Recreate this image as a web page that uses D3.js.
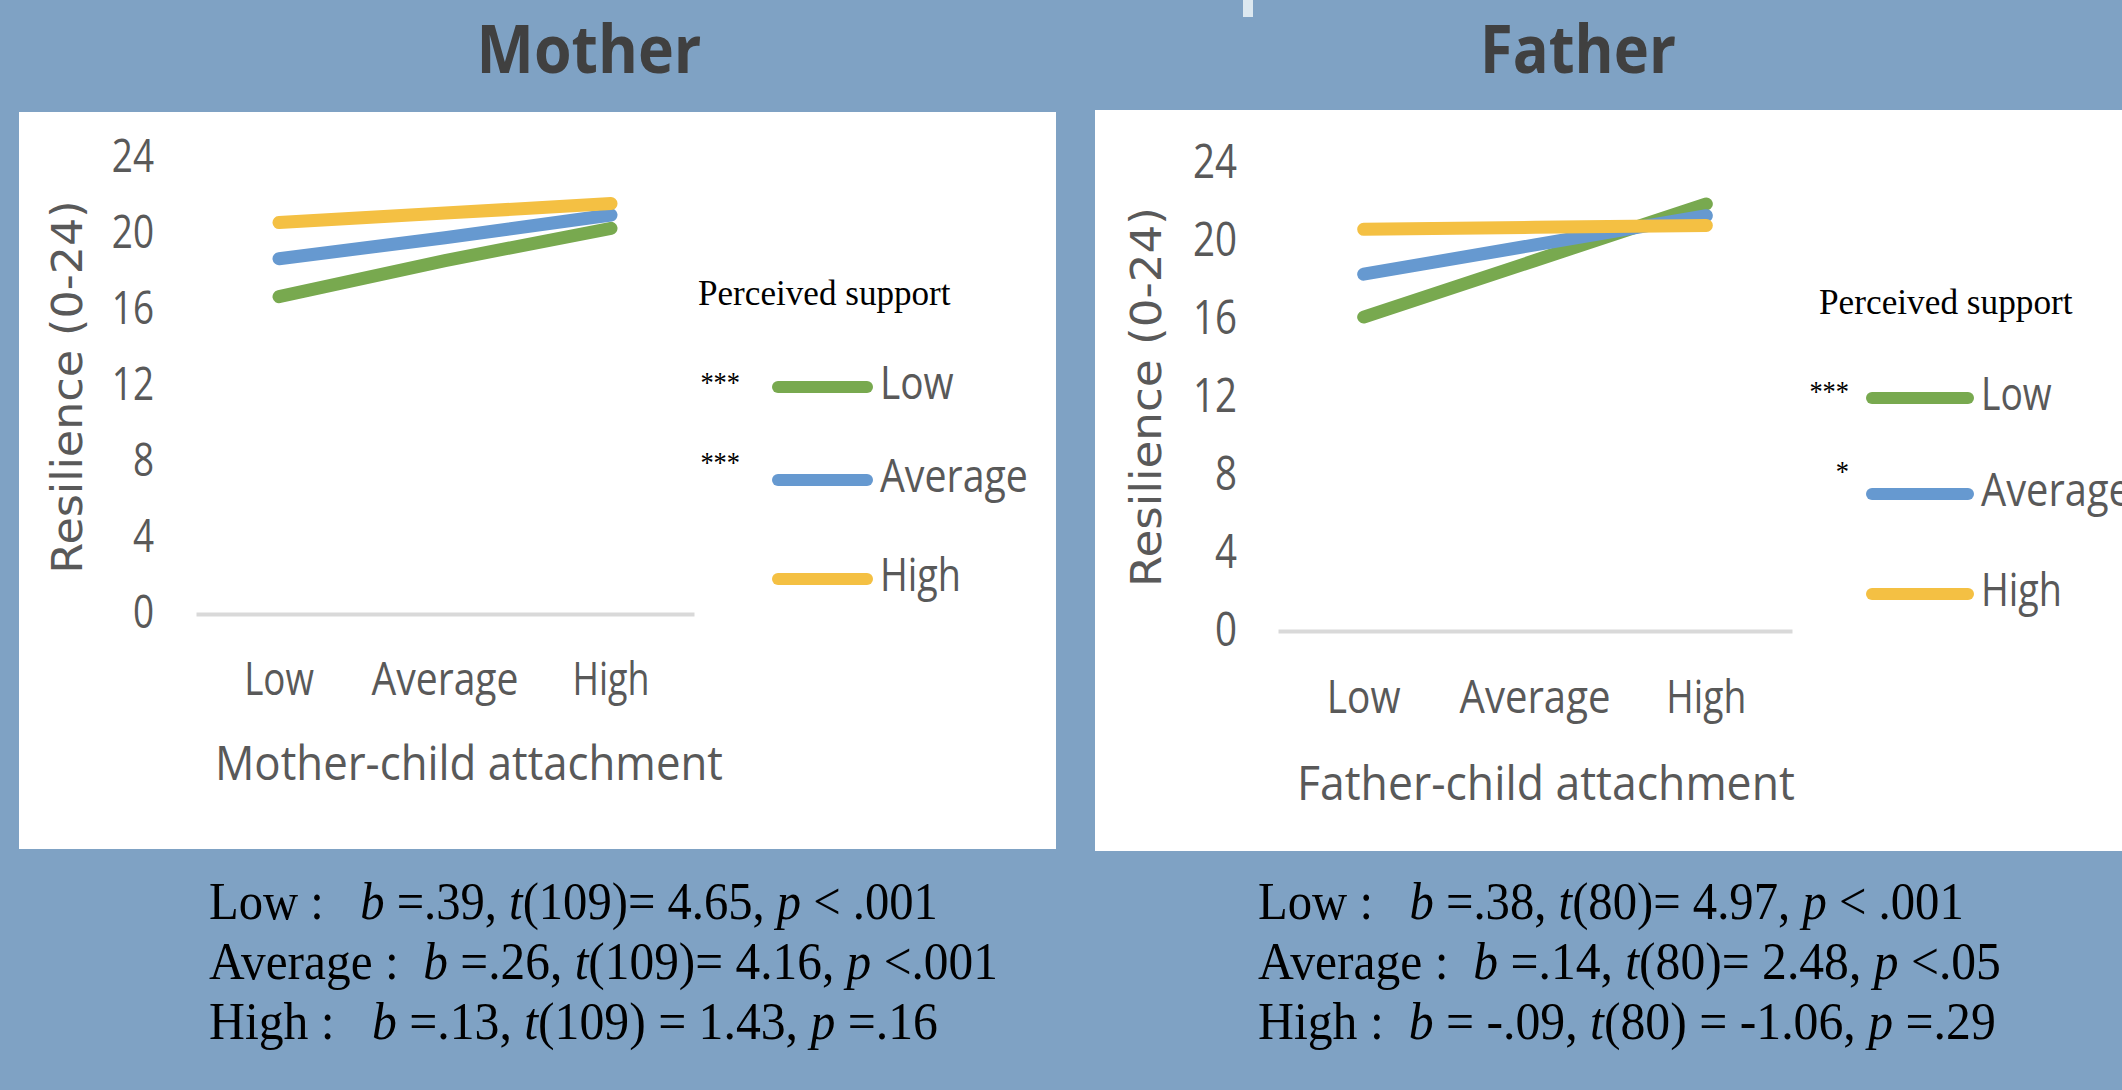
<!DOCTYPE html>
<html><head><meta charset="utf-8">
<script src="https://cdn.jsdelivr.net/npm/d3@7"></script>
<style>html,body{margin:0;padding:0;background:#7fa2c4;overflow:hidden}</style>
</head><body><svg id="chart" width="2122" height="1090"></svg>
<script>
// ---------- data ----------
const attachmentLevels = ["Low", "Average", "High"];
const supportLevels = ["Low", "Average", "High"];
const motherLow = [16.7, 18.6, 20.3];
const motherAverage = [18.7, 19.8, 21.0];
const motherHigh = [20.6, 21.1, 21.6];
const fatherLow = [16.1, 19.0, 21.9];
const fatherAverage = [18.3, 19.8, 21.3];
const fatherHigh = [20.6, 20.7, 20.8];
const yTicks = [0, 4, 8, 12, 16, 20, 24];
const yDomain = [0, 24];
const motherStars = ["***", "***", ""];
const fatherStars = ["***", "*", ""];
const motherStats = [
  "Low :   _b_ =.39, _t_(109)= 4.65, _p_ < .001",
  "Average :  _b_ =.26, _t_(109)= 4.16, _p_ <.001",
  "High :   _b_ =.13, _t_(109) = 1.43, _p_ =.16"
];
const fatherStats = [
  "Low :   _b_ =.38, _t_(80)= 4.97, _p_ < .001",
  "Average :  _b_ =.14, _t_(80)= 2.48, _p_ <.05",
  "High :  _b_ = -.09, _t_(80) = -1.06, _p_ =.29"
];
const seriesColors = ["#78a94f", "#6699d0", "#f4c043"];

// ---------- helpers ----------
const svg = d3.select("#chart");
svg.append("rect").attr("width", 2122).attr("height", 1090).attr("fill", "#7fa2c4");

const SANS = "'Open Sans', 'Noto Sans', sans-serif";
const SERIF = "'Liberation Serif', 'DejaVu Serif', serif";
const WIDE = "'DejaVu Sans', Verdana, sans-serif";

function label(parent, o) {
  const grp = parent.append("g")
    .attr("transform", `translate(${o.x},${o.y})` + (o.rotate ? ` rotate(${o.rotate})` : ""));
  const t = grp.append("text")
    .attr("text-anchor", o.anchor || "start")
    .style("font-family", o.family)
    .style("font-size", o.size + "px")
    .style("font-weight", o.weight || "normal")
    .style("white-space", "pre")
    .attr("fill", o.fill || "#000");
  if (o.baseline) t.attr("dominant-baseline", o.baseline);
  if (o.rich) {
    o.text.split("_").forEach((part, i) => {
      if (!part) return;
      t.append("tspan").text(part).style("font-style", i % 2 ? "italic" : "normal");
    });
  } else {
    t.text(o.text);
  }
  if (o.width) {
    const w = t.node().getBBox().width;
    if (w > 0) t.attr("transform", `scale(${o.width / w},1)`);
  } else if (o.sx) {
    t.attr("transform", `scale(${o.sx},1)`);
  }
  return t;
}

function drawPanel(cfg) {
  const g = svg.append("g");
  g.append("rect")
    .attr("x", cfg.rect[0]).attr("y", cfg.rect[1])
    .attr("width", cfg.rect[2]).attr("height", cfg.rect[3])
    .attr("fill", "#ffffff");

  const x = d3.scaleBand().domain(attachmentLevels).range(cfg.xRange).padding(0);
  const cx = d => x(d) + x.bandwidth() / 2;
  const y = d3.scaleLinear().domain(yDomain).range([cfg.y0, cfg.y24]);

  // x axis baseline
  const ax = g.append("g").attr("transform", `translate(0,${y(0)})`)
    .call(d3.axisBottom(x).tickSize(0).tickSizeOuter(0).tickFormat(""));
  ax.select(".domain").attr("stroke", "#d9d9d9").attr("stroke-width", 4);
  ax.selectAll(".tick").remove();

  // y tick labels
  yTicks.forEach(v => {
    label(g, { x: cfg.tickRight, y: y(v) - 3, text: String(v), size: cfg.tickSize,
      family: SANS, fill: "#595959", anchor: "end", baseline: "central", sx: 0.82 });
  });

  // category labels
  attachmentLevels.forEach((c, i) => {
    label(g, { x: cx(c), y: cfg.catBase, text: c, size: 46, family: SANS,
      fill: "#595959", anchor: "middle", width: cfg.catW[i] });
  });

  // axis titles
  label(g, { x: cfg.yTitle[0], y: cfg.yTitle[1], text: "Resilience (0-24)", size: 42,
    family: WIDE, fill: "#595959", anchor: "middle", baseline: "central",
    rotate: -90, width: cfg.yTitle[2] });
  label(g, { x: cfg.xTitle[0], y: cfg.xTitle[1], text: cfg.xTitleText, size: 47,
    family: SANS, fill: "#595959", width: cfg.xTitle[2] });

  // lines
  const line = d3.line().x((d, i) => cx(attachmentLevels[i])).y(d => y(d));
  cfg.series.forEach((s, i) => {
    g.append("path").datum(s).attr("d", line)
      .attr("fill", "none").attr("stroke", seriesColors[i])
      .attr("stroke-width", 13).attr("stroke-linecap", "round").attr("stroke-linejoin", "round");
  });

  // legend
  label(g, { x: cfg.ps[0], y: cfg.ps[1], text: "Perceived support", size: 35,
    family: SERIF, fill: "#000", width: cfg.ps[2] });
  supportLevels.forEach((s, i) => {
    const ly = cfg.legY[i];
    g.append("line")
      .attr("x1", cfg.legX[0] + 6).attr("x2", cfg.legX[1] - 6)
      .attr("y1", ly).attr("y2", ly)
      .attr("stroke", seriesColors[i]).attr("stroke-width", 12).attr("stroke-linecap", "round");
    label(g, { x: cfg.legTextX, y: ly + 12, text: s, size: 46, family: SANS,
      fill: "#595959", width: cfg.legW[i] });
    if (cfg.stars[i]) {
      label(g, { x: cfg.starRight, y: cfg.starBase[i], text: cfg.stars[i], size: 30,
        family: SERIF, fill: "#000", anchor: "end", sx: 0.88 });
    }
  });

  // title
  label(svg, { x: cfg.title[0], y: cfg.title[1], text: cfg.titleText, size: 67,
    family: SANS, weight: "bold", fill: "#404040", anchor: "middle", width: cfg.title[2] });

  // stats
  cfg.stats.forEach((s, i) => {
    label(svg, { x: cfg.statX, y: cfg.statBase[i], text: s, rich: true, size: 53,
      family: SERIF, fill: "#000", width: cfg.statW[i] });
  });
}

drawPanel({
  titleText: "Mother", title: [589, 73, 225],
  rect: [19, 112, 1037, 737],
  xRange: [196, 694], y0: 614, y24: 158,
  tickRight: 154, tickSize: 45,
  catBase: 695, catW: [70, 147, 77],
  yTitle: [67, 387, 373],
  xTitleText: "Mother-child attachment", xTitle: [215, 780, 508],
  series: [motherLow, motherAverage, motherHigh],
  ps: [698, 305, 253],
  legX: [772, 873], legY: [387, 480, 579], legTextX: 880, legW: [74, 148, 81],
  stars: motherStars, starRight: 740, starBase: [392, 472],
  stats: motherStats, statX: 209, statBase: [919, 979, 1039], statW: [729, 789, 729]
});

drawPanel({
  titleText: "Father", title: [1578, 73, 196],
  rect: [1095, 110, 1027, 741],
  xRange: [1278, 1792], y0: 631, y24: 163,
  tickRight: 1237, tickSize: 47,
  catBase: 713, catW: [74, 151, 80],
  yTitle: [1146, 397, 380],
  xTitleText: "Father-child attachment", xTitle: [1297, 800, 498],
  series: [fatherLow, fatherAverage, fatherHigh],
  ps: [1819, 314, 254],
  legX: [1866, 1974], legY: [398, 494, 594], legTextX: 1981, legW: [71, 150, 81],
  stars: fatherStars, starRight: 1849, starBase: [401, 481],
  stats: fatherStats, statX: 1258, statBase: [919, 979, 1039], statW: [706, 743, 738]
});

// small white mark at top between panels
svg.append("rect").attr("x", 1243).attr("y", 0).attr("width", 10).attr("height", 17).attr("fill", "#dce8f0");
</script>
</body></html>
